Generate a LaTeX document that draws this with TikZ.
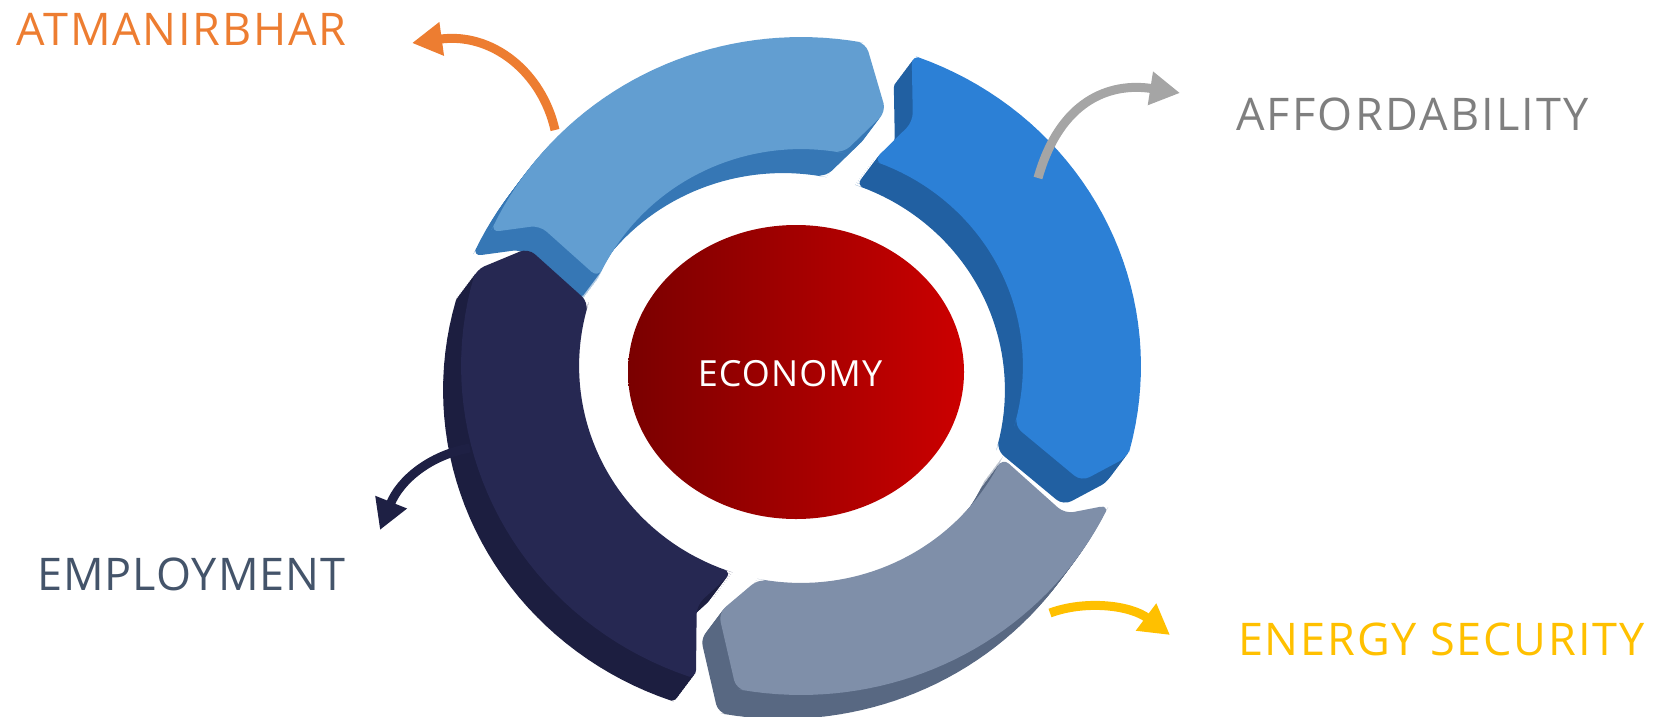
\documentclass[tikz,border=0pt]{standalone}
\usepackage{fontspec}
\setmainfont{Open Sans}
\usepackage{tikz}
\usetikzlibrary{arrows.meta,shapes.geometric}
\definecolor{lightface}{HTML}{629ED1}
\definecolor{lightside}{HTML}{3677B5}
\definecolor{blueface}{HTML}{2C80D6}
\definecolor{blueside}{HTML}{2160A2}
\definecolor{greyface}{HTML}{7F8FA9}
\definecolor{greyside}{HTML}{586882}
\definecolor{navyface}{HTML}{262852}
\definecolor{navyside}{HTML}{1C1E40}
\definecolor{coreleft}{HTML}{7A0000}
\definecolor{coreright}{HTML}{CC0000}
\definecolor{atmcol}{HTML}{ED7D31}
\definecolor{affcol}{HTML}{A5A5A5}
\definecolor{affText}{HTML}{7F7F7F}
\definecolor{enecol}{HTML}{FFC000}
\definecolor{empcol}{HTML}{1E2044}
\definecolor{empText}{HTML}{44546A}
\tikzset{core/.style={ellipse,inner sep=0pt,minimum width=336pt,minimum height=294pt,
        left color=coreleft,right color=coreright},
    coretext/.style={inner sep=0pt,text=white,
        font=\fontsize{36}{40}\selectfont\addfontfeature{LetterSpace=3}},
    tag/.style={anchor=base west,inner sep=0pt,
        font=\fontsize{45}{50}\selectfont\addfontfeature{LetterSpace=#1}},
    tag/.default=4,
    flow/.style={line width=9pt,-{Triangle[length=30pt,width=32pt]}},
    piece/.style={rounded corners=9pt}}
% one arrow piece of the ring: tail angle, head angle,
% where the notch point sits, where the head point sits (0 inner .. 1 outer)
\newcommand{\ringpath}[4]{plot[domain=#1:#2,samples=40]
    ({801+340*cos(\x)},{366+329*sin(\x)})
    -- ({801+(222+118*#4)*cos(#2+7)},{366+(217+112*#4)*sin(#2+7)})
    -- plot[domain=#2:#1,samples=40] ({801+222*cos(\x)},{366+217*sin(\x)})
    -- ({801+(222+118*#3)*cos(#1+5)},{366+(217+112*#3)*sin(#1+5)}) -- cycle}
\newcommand{\ringpiece}[6]{%
    \foreach \k in {12,11,...,1}
        \fill[piece,#6,shift={(-1.5*\k,2*\k)}] \ringpath{#1}{#2}{#3}{#4};
    \fill[piece,#5] \ringpath{#1}{#2}{#3}{#4};}
\begin{document}
\begin{tikzpicture}[x=1pt,y=-1pt]
    \useasboundingbox (0,0) rectangle (1657,716);
    \ringpiece{289}{376}{0.45}{0.7}{blueface}{blueside}
    \ringpiece{204}{281}{0.65}{0.45}{lightface}{lightside}
    \ringpiece{25}{101}{0.7}{0.38}{greyface}{greyside}
    \ringpiece{108}{197}{0.38}{0.65}{navyface}{navyside}

    \node[core] (economy) at (796,372) {};
    \node[coretext] (economy-text) at (790,374) {ECONOMY};

    \node[tag,text=atmcol] (atm) at (16,45) {ATMANIRBHAR};
    \node[tag=5,text=affText] (aff) at (1236,130) {AFFORDABILITY};
    \node[tag,text=enecol] (ene) at (1238,655) {ENERGY SECURITY};
    \node[tag=2.2,text=empText] (emp) at (37,590) {EMPLOYMENT};

    \coordinate (atm-from) at (555,130);
    \coordinate (atm-to) at (412,43);
    \coordinate (aff-from) at (1038,178);
    \coordinate (aff-to) at (1180,93);
    \coordinate (ene-from) at (1050,613);
    \coordinate (ene-to) at (1170,635);
    \coordinate (emp-from) at (470,448);
    \coordinate (emp-to) at (380,530);

    \draw[flow,atmcol] (atm-from) .. controls (542,72) and (492,32) .. (atm-to);
    \draw[flow,affcol] (aff-from) .. controls (1060,100) and (1110,82) .. (aff-to);
    \draw[flow,enecol] (ene-from) .. controls (1085,600) and (1130,605) .. (ene-to);
    \draw[flow,empcol] (emp-from) .. controls (430,455) and (400,480) .. (emp-to);
\end{tikzpicture}
\end{document}
